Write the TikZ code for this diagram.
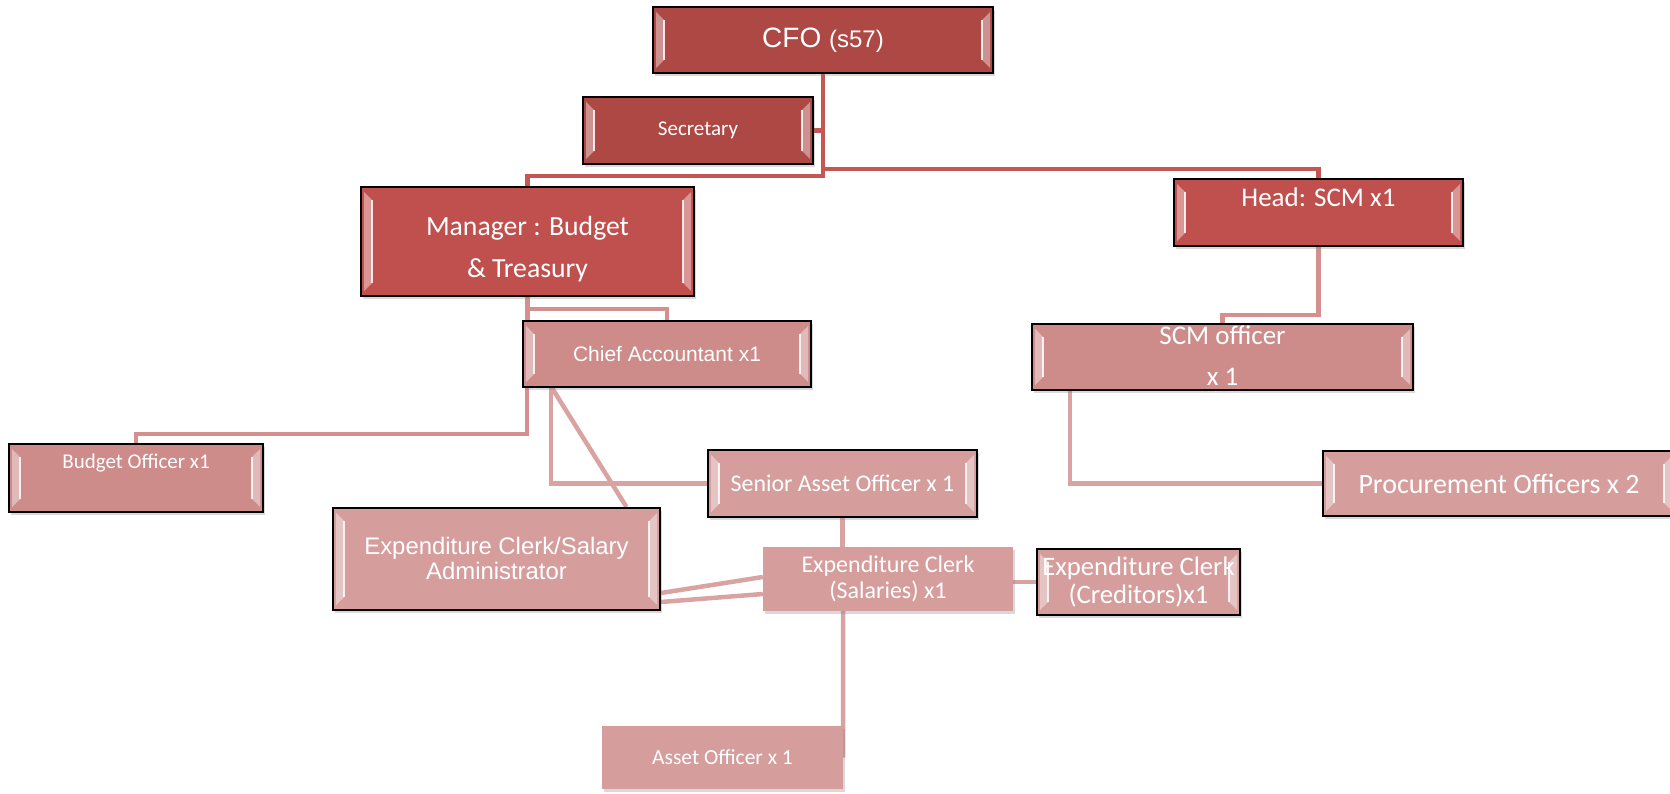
\documentclass[tikz,border=0pt]{standalone}
\usepackage{fontspec}
\setmainfont{Carlito}
\newfontfamily\arialfont{Liberation Sans}
\usetikzlibrary{shadows}
\definecolor{cfored}{HTML}{AD4845}
\definecolor{mgrred}{HTML}{C0504D}
\definecolor{midpink}{HTML}{CD8B89}
\definecolor{lightpink}{HTML}{D59E9D}
\definecolor{linered}{HTML}{C45754}
\definecolor{linepink}{HTML}{D48F8E}
\definecolor{linelight}{HTML}{D9A3A2}
\pgfdeclarelayer{bg}
\pgfsetlayers{bg,main}

\begin{document}
\begin{tikzpicture}[x=1pt, y=-1pt,
  bevel/.style={path picture={
    \fill[white,opacity=.4] ([shift={(3pt,-5pt)}]path picture bounding box.north west) -- ([shift={(11pt,-13pt)}]path picture bounding box.north west) -- ([shift={(11pt,13pt)}]path picture bounding box.south west) -- ([shift={(3pt,5pt)}]path picture bounding box.south west) -- cycle;
    \fill[white,opacity=.4] ([shift={(-3pt,-5pt)}]path picture bounding box.north east) -- ([shift={(-11pt,-13pt)}]path picture bounding box.north east) -- ([shift={(-11pt,13pt)}]path picture bounding box.south east) -- ([shift={(-3pt,5pt)}]path picture bounding box.south east) -- cycle;
    \draw[white,line width=1.5pt,opacity=.85] ([shift={(11pt,-13pt)}]path picture bounding box.north west) -- ([shift={(11pt,13pt)}]path picture bounding box.south west);
    \draw[white,line width=1.5pt,opacity=.85] ([shift={(-11pt,-13pt)}]path picture bounding box.north east) -- ([shift={(-11pt,13pt)}]path picture bounding box.south east);
  }},
  box/.style={rectangle, draw=black, line width=2pt, text=white, align=center, inner sep=0pt,
    drop shadow={opacity=.3, shadow xshift=2pt, shadow yshift=-3pt}, bevel},
  flatbox/.style={rectangle, fill=lightpink, text=white, align=center, inner sep=0pt,
    drop shadow={opacity=.3, shadow xshift=2pt, shadow yshift=-3pt}},
  link/.style={line width=4.5pt}]

\useasboundingbox (0,0) rectangle (1670,794);

\node[box, fill=cfored, minimum width=340pt, minimum height=66pt] (cfo) at (823,40)
  {\arialfont\fontsize{28}{30}\selectfont CFO \fontsize{24}{26}\selectfont(s57)};
\node[box, fill=cfored, minimum width=230pt, minimum height=67pt, font=\fontsize{21}{24}\selectfont] (sec) at (698,130.5) {Secretary};
\node[box, fill=mgrred, minimum width=333pt, minimum height=109pt, font=\fontsize{27.7}{41}\selectfont, text height=71pt, text depth=0pt] (mgr) at (527.5,241.5) {Manager : Budget\\\& Treasury};
\node[box, fill=mgrred, minimum width=289pt, minimum height=67pt, font=\fontsize{27}{30}\selectfont, text height=20pt, text depth=31pt] (head) at (1318.5,212.5) {Head: SCM x1};
\node[box, fill=midpink, minimum width=288pt, minimum height=66pt, font=\arialfont\fontsize{21}{24}\selectfont] (chief) at (667,354) {Chief Accountant x1};
\node[box, fill=midpink, minimum width=381pt, minimum height=66pt, font=\fontsize{27}{41}\selectfont, text height=56pt, text depth=0pt] (scm) at (1222.5,357) {SCM officer\\x 1};
\node[box, fill=midpink, minimum width=254pt, minimum height=68pt, font=\fontsize{21}{24}\selectfont, text height=15pt, text depth=35pt] (budget) at (136,478) {Budget Officer x1};
\node[box, fill=lightpink, minimum width=327pt, minimum height=102pt, font=\arialfont\fontsize{23.9}{25}\selectfont, text height=40pt, text depth=0pt] (admin) at (496.5,559) {Expenditure Clerk/Salary\\Administrator};
\node[box, fill=lightpink, minimum width=269pt, minimum height=67pt, font=\fontsize{23.9}{26}\selectfont] (senior) at (842.5,483.5) {Senior Asset Officer x 1};
\node[flatbox, minimum width=250pt, minimum height=64pt, font=\fontsize{24}{26}\selectfont] (sal) at (888,579) {Expenditure Clerk\\(Salaries) x1};
\node[box, fill=lightpink, minimum width=203pt, minimum height=66pt, font=\fontsize{26.7}{28}\selectfont] (cred) at (1138.5,582) {Expenditure Clerk\\(Creditors)x1};
\node[flatbox, minimum width=241pt, minimum height=63pt, font=\fontsize{21.5}{24}\selectfont] (asset) at (722.5,757.5) {Asset Officer x 1};
\node[box, fill=lightpink, minimum width=352pt, minimum height=65pt, font=\fontsize{28}{30}\selectfont] (proc) at (1499,483.5) {Procurement Officers x 2};

\begin{pgfonlayer}{bg}
\draw[link, linered] (cfo.south) |- (sec.east);
\draw[link, linered] (cfo.south) -- ++(0,95) -| (head.north);
\draw[link, linered] (cfo.south) -- ++(0,102) -| (mgr.north);
\draw[link, linepink] (mgr.south) -- (mgr.south |- chief.north);
\draw[link, linepink] (mgr.south) -- ++(0,12) -| (chief.north);
\draw[link, linepink] (head.south) -- ++(0,68) -| (scm.north);
\draw[link, linepink] ([xshift=5pt]chief.south west) -- ++(0,46) -| (budget.north);
\draw[link, linelight] ([xshift=29pt]chief.south west) |- (senior.west);
\draw[link, linelight] ([xshift=30pt]chief.south west) -- ([xshift=130pt]admin.north);
\draw[link, linelight] (senior.south) -- (senior.south |- sal.north);
\draw[link, linelight] ([yshift=18pt]admin.south east) -- ([yshift=2pt]sal.west);
\draw[link, linelight] ([yshift=9pt]admin.south east) -- ([yshift=-15pt]sal.west);
\draw[link, linelight] (cred.west -| sal.east) -- (cred.west);
\draw[link, linelight] ([xshift=-45pt]sal.south) -- (asset.east);
\draw[link, linelight] ([xshift=39pt]scm.south west) |- (proc.west);
\end{pgfonlayer}

\end{tikzpicture}
\end{document}
